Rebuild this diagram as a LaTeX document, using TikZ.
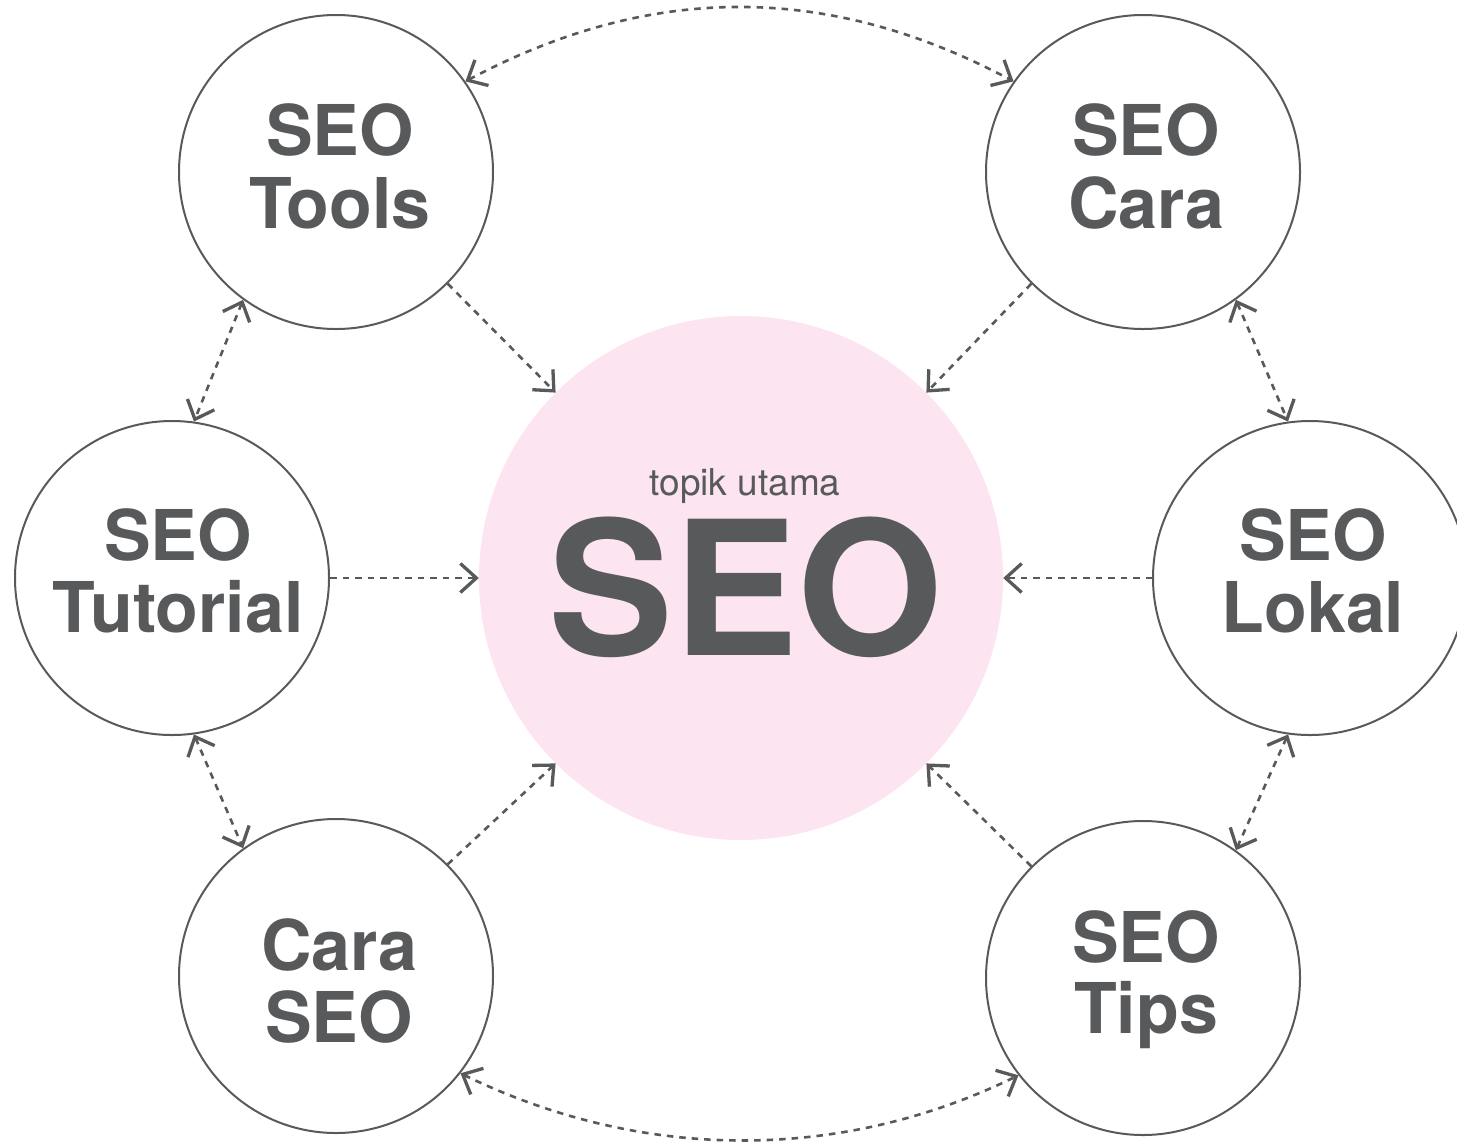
\documentclass[tikz,border=0pt]{standalone}
\usepackage{fontspec}
\newfontfamily\heros{TeX Gyre Heros}
\usetikzlibrary{arrows.meta}
\definecolor{ink}{HTML}{58595B}
\definecolor{pinkfill}{HTML}{FCE4F0}
\begin{document}
\begin{tikzpicture}[x=1bp,y=1bp,
  topic/.style={circle, draw=ink, line width=2bp, minimum size=314bp, inner sep=0pt},
  lbl/.style={anchor=base, text=ink, inner sep=0pt, font=\heros\bfseries\fontsize{70bp}{72bp}\selectfont},
  conn/.style={draw=ink, line width=2.6bp, dash pattern=on 6.5bp off 6bp},
  >={Straight Barb[length=16bp,width=29bp,line width=3.3bp]}]
\useasboundingbox (0,0) rectangle (1457,-1142);
% central topic
\node[circle, fill=pinkfill, minimum size=524bp, inner sep=0pt] (seo) at (741,-578) {};
\node[anchor=base, text=ink, inner sep=0pt, font=\heros\fontsize{37bp}{42bp}\selectfont] (topik) at (745,-495) {topik utama};
\node[anchor=base, text=ink, inner sep=0pt, font=\heros\bfseries\fontsize{187bp}{190bp}\selectfont] (seotext) at (746,-655) {SEO};
% surrounding topics
\node[topic] (tools) at (336,-172) {};
\node[lbl] (toolsA) at (340,-155) {SEO};
\node[lbl] (toolsB) at (340,-228) {Tools};
\node[topic] (cara) at (1143,-172) {};
\node[lbl] (caraA) at (1146,-155) {SEO};
\node[lbl] (caraB) at (1146,-228) {Cara};
\node[topic] (tutorial) at (172,-578) {};
\node[lbl] (tutorialA) at (178,-560) {SEO};
\node[lbl] (tutorialB) at (178,-632) {Tutorial};
\node[topic] (lokal) at (1310,-578) {};
\node[lbl] (lokalA) at (1313,-560) {SEO};
\node[lbl] (lokalB) at (1313,-632) {Lokal};
\node[topic] (caraseo) at (336,-976) {};
\node[lbl] (caraseoA) at (339,-970) {Cara};
\node[lbl] (caraseoB) at (339,-1042) {SEO};
\node[topic] (tips) at (1143,-978) {};
\node[lbl] (tipsA) at (1146,-962) {SEO};
\node[lbl] (tipsB) at (1146,-1033) {Tips};
% connectors to the centre
\draw[conn,->] (tools.-45) -- (seo.135);
\draw[conn,->] (cara.-135) -- (seo.45);
\draw[conn,->] (tutorial.east) -- (seo.west);
\draw[conn,->] (lokal.west) -- (seo.east);
\draw[conn,->] (caraseo.45) -- (seo.-135);
\draw[conn,->] (tips.135) -- (seo.-45);
% connectors between neighbours
\draw[conn,<->] (tools.234) -- (tutorial.82);
\draw[conn,<->] (tutorial.278) -- (caraseo.126);
\draw[conn,<->] (cara.306) -- (lokal.98);
\draw[conn,<->] (lokal.262) -- (tips.54);
\draw[conn,<->] (tools.35) .. controls +(28:210) and +(152:210) .. (cara.145);
\draw[conn,<->] (caraseo.-38) .. controls +(-26:200) and +(206:200) .. (tips.218);
\end{tikzpicture}
\end{document}
